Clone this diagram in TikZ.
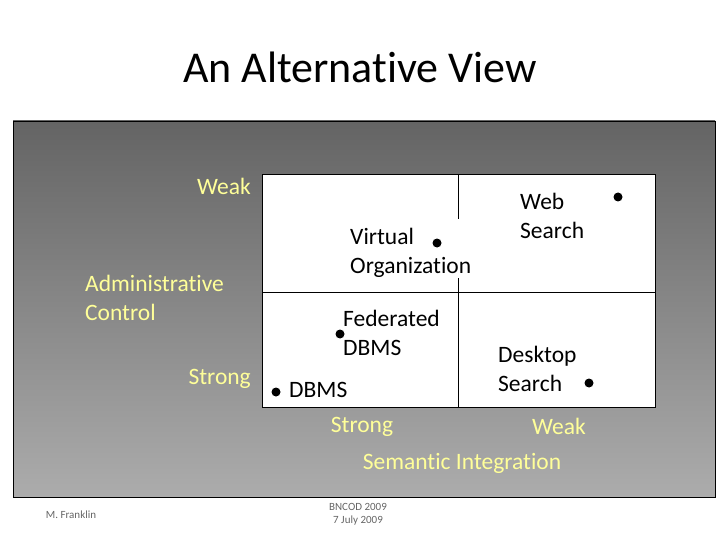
\documentclass[tikz,border=0pt]{standalone}
\usepackage{fontspec}
\setmainfont[Ligatures=NoCommon]{Carlito}
\begin{document}
\begin{tikzpicture}[x=1pt,y=-1pt,
  lab/.style={font=\fontsize{23.5}{29}\selectfont, align=left, inner sep=0pt},
  yel/.style={lab, text={rgb,255:red,255;green,255;blue,153}},
  dot/.style={circle, fill=black, inner sep=0pt, minimum size=9pt},
  foot/.style={font=\fontsize{11}{13}\selectfont, text=gray!80!black, align=center, inner sep=0pt}]
\useasboundingbox (0,0) rectangle (720,540);
\fill[white] (0,0) rectangle (720,540);
\node[font=\fontsize{44}{50}\selectfont, inner sep=0pt] (title) at (360,67) {An Alternative View};
\shade[top color={rgb,255:red,100;green,100;blue,100}, bottom color={rgb,255:red,172;green,172;blue,172}] (13,121) rectangle (715,497);
\draw[black, line width=0.8pt] (13,121) rectangle (715,497);
\node[draw, fill=white, line width=0.6pt, minimum width=393pt, minimum height=233pt, inner sep=0pt] (box) at (458.5,290.5) {};
\draw (458,174) -- (458,219) (458,278) -- (458,407);
\draw (262,292) -- (655,292);
\node[lab, anchor=west] (vo) at (350,253) {Virtual\\Organization};
\node[dot] (d1) at (437,243) {};
\node[lab, anchor=west] (ws) at (520,216) {Web\\Search};
\node[dot] (d2) at (618,197) {};
\node[lab, anchor=west] (fd) at (343,333) {Federated\\DBMS};
\node[dot] (d3) at (340,334) {};
\node[lab, anchor=west] (ds) at (498,369) {Desktop\\Search};
\node[dot] (d4) at (589,383) {};
\node[lab, anchor=west] (db) at (289,390) {DBMS};
\node[dot] (d5) at (276,392) {};
\node[yel, anchor=east] (weak1) at (251,186) {Weak};
\node[yel, anchor=west] (ac) at (85,298) {Administrative\\Control};
\node[yel, anchor=east] (strong1) at (251,379) {Strong};
\node[yel] (strong2) at (362,427) {Strong};
\node[yel] (weak2) at (559,426) {Weak};
\node[yel] (si) at (462,463) {Semantic Integration};
\node[foot] (mf) at (71,515) {M. Franklin};
\node[foot] (bn) at (358,514) {BNCOD 2009\\7 July 2009};
\end{tikzpicture}
\end{document}
